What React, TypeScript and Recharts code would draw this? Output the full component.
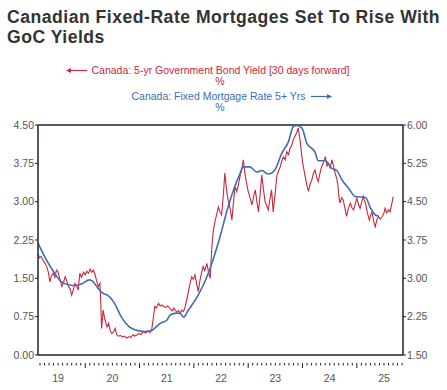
import { LineChart, Line, XAxis, YAxis, ReferenceLine } from 'recharts'

// Canada 5-yr GoC bond yield, 30 days forward (left axis, %)  [decimal year, value]
const BOND_YIELD: [number, number][] = [
  [2019.13, 1.98], [2019.16, 1.9], [2019.19, 1.93], [2019.23, 1.83], [2019.26, 1.8],
  [2019.29, 1.73], [2019.32, 1.62], [2019.35, 1.43], [2019.38, 1.55], [2019.41, 1.6],
  [2019.44, 1.52], [2019.47, 1.66], [2019.5, 1.63], [2019.53, 1.5], [2019.57, 1.34],
  [2019.6, 1.42], [2019.63, 1.53], [2019.66, 1.45], [2019.69, 1.34], [2019.72, 1.3],
  [2019.75, 1.17], [2019.78, 1.28], [2019.81, 1.4], [2019.84, 1.35], [2019.87, 1.27],
  [2019.9, 1.6], [2019.93, 1.52], [2019.97, 1.62], [2020.0, 1.57], [2020.03, 1.64],
  [2020.06, 1.6], [2020.09, 1.68], [2020.12, 1.62], [2020.15, 1.66], [2020.18, 1.57],
  [2020.21, 1.45], [2020.24, 1.34], [2020.27, 1.4], [2020.29, 0.9], [2020.3, 0.52],
  [2020.32, 0.75], [2020.33, 0.88], [2020.36, 0.7], [2020.4, 0.55], [2020.43, 0.62],
  [2020.46, 0.47], [2020.49, 0.42], [2020.52, 0.45], [2020.55, 0.52], [2020.58, 0.4],
  [2020.61, 0.37], [2020.65, 0.38], [2020.69, 0.35], [2020.72, 0.37], [2020.76, 0.33],
  [2020.8, 0.36], [2020.84, 0.34], [2020.88, 0.4], [2020.91, 0.37], [2020.95, 0.39],
  [2020.99, 0.42], [2021.03, 0.4], [2021.07, 0.46], [2021.11, 0.43], [2021.15, 0.47],
  [2021.19, 0.44], [2021.22, 0.48], [2021.25, 0.7], [2021.28, 0.95], [2021.31, 0.92],
  [2021.35, 1.01], [2021.38, 0.96], [2021.41, 0.98], [2021.44, 0.95], [2021.48, 0.93],
  [2021.52, 0.96], [2021.56, 0.91], [2021.6, 0.86], [2021.63, 0.92], [2021.65, 0.88],
  [2021.69, 0.84], [2021.72, 0.87], [2021.75, 0.82], [2021.78, 0.88], [2021.81, 0.85],
  [2021.84, 0.95], [2021.87, 1.08], [2021.9, 1.25], [2021.93, 1.4], [2021.96, 1.53],
  [2021.99, 1.48], [2022.02, 1.57], [2022.05, 1.4], [2022.08, 1.24], [2022.11, 1.45],
  [2022.14, 1.6], [2022.17, 1.73], [2022.2, 1.65], [2022.24, 1.79], [2022.27, 1.62],
  [2022.3, 1.5], [2022.33, 2.1], [2022.36, 2.45], [2022.39, 2.62], [2022.42, 2.75],
  [2022.45, 2.9], [2022.48, 2.8], [2022.51, 2.74], [2022.54, 3.1], [2022.57, 3.56],
  [2022.6, 3.25], [2022.63, 3.03], [2022.67, 2.85], [2022.7, 2.64], [2022.73, 3.0],
  [2022.76, 3.29], [2022.79, 3.2], [2022.82, 3.33], [2022.85, 3.5], [2022.88, 3.62],
  [2022.91, 3.82], [2022.94, 3.55], [2022.97, 3.36], [2023.0, 3.2], [2023.04, 3.05],
  [2023.07, 2.94], [2023.1, 3.1], [2023.13, 3.23], [2023.16, 3.0], [2023.19, 2.8],
  [2023.22, 3.15], [2023.25, 3.52], [2023.28, 3.25], [2023.31, 3.0], [2023.34, 2.92],
  [2023.37, 2.84], [2023.4, 3.05], [2023.43, 3.23], [2023.46, 2.8], [2023.5, 3.2],
  [2023.53, 3.52], [2023.56, 3.6], [2023.59, 3.68], [2023.62, 3.8], [2023.65, 3.88],
  [2023.68, 3.82], [2023.71, 3.98], [2023.74, 3.92], [2023.77, 4.04], [2023.8, 4.1],
  [2023.83, 4.21], [2023.86, 4.28], [2023.89, 4.34], [2023.92, 4.44], [2023.95, 4.25],
  [2023.98, 3.95], [2024.0, 3.78], [2024.03, 3.6], [2024.05, 3.49], [2024.08, 3.32],
  [2024.11, 3.2], [2024.14, 3.35], [2024.17, 3.42], [2024.2, 3.55], [2024.23, 3.62],
  [2024.26, 3.48], [2024.29, 3.39], [2024.32, 3.55], [2024.35, 3.68], [2024.38, 3.75],
  [2024.42, 3.88], [2024.45, 3.7], [2024.48, 3.75], [2024.51, 3.65], [2024.54, 3.82],
  [2024.57, 3.7], [2024.6, 3.56], [2024.63, 3.45], [2024.65, 3.33], [2024.67, 3.1],
  [2024.69, 2.97], [2024.72, 3.08], [2024.75, 3.03], [2024.78, 2.88], [2024.81, 2.71],
  [2024.84, 2.85], [2024.88, 2.97], [2024.91, 2.88], [2024.94, 2.84], [2024.97, 2.95],
  [2025.0, 3.07], [2025.03, 2.95], [2025.06, 2.87], [2025.09, 3.0], [2025.12, 3.1],
  [2025.14, 3.02], [2025.16, 2.97], [2025.19, 2.8], [2025.23, 2.64], [2025.25, 2.72],
  [2025.28, 2.8], [2025.31, 2.62], [2025.34, 2.51], [2025.37, 2.65], [2025.4, 2.71],
  [2025.43, 2.66], [2025.47, 2.71], [2025.5, 2.78], [2025.52, 2.87], [2025.55, 2.78],
  [2025.58, 2.84], [2025.61, 2.8], [2025.64, 2.94], [2025.67, 3.1],
]

// Canada fixed mortgage rate 5+ yrs (right axis, %)
const MORTGAGE_RATE: [number, number][] = [
  [2019.13, 3.69], [2019.28, 3.37], [2019.43, 3.11], [2019.55, 2.94], [2019.71, 2.87],
  [2019.83, 2.86], [2019.95, 2.9], [2020.07, 2.97], [2020.14, 2.94], [2020.23, 2.81],
  [2020.32, 2.71], [2020.41, 2.67], [2020.54, 2.51], [2020.66, 2.25], [2020.81, 2.05],
  [2020.93, 1.99], [2021.09, 1.96], [2021.22, 1.98], [2021.38, 2.12], [2021.5, 2.18],
  [2021.56, 2.28], [2021.68, 2.32], [2021.75, 2.31], [2021.81, 2.24], [2021.9, 2.38],
  [2022.08, 2.67], [2022.24, 3.03], [2022.36, 3.39], [2022.48, 3.81], [2022.63, 4.4],
  [2022.73, 4.73], [2022.85, 5.05], [2022.91, 5.18], [2023.03, 5.18], [2023.16, 5.08],
  [2023.25, 5.11], [2023.37, 5.04], [2023.49, 5.12], [2023.62, 5.45], [2023.74, 5.67],
  [2023.83, 5.97], [2023.89, 5.99], [2023.99, 5.94], [2024.08, 5.64], [2024.23, 5.47],
  [2024.29, 5.3], [2024.42, 5.3], [2024.54, 5.15], [2024.63, 5.11], [2024.73, 4.92],
  [2024.85, 4.76], [2024.97, 4.6], [2025.16, 4.58], [2025.25, 4.38], [2025.34, 4.24],
  [2025.4, 4.22],
]

const LEFT_TICKS = [0, 0.75, 1.5, 2.25, 3, 3.75, 4.5]
const RIGHT_TICKS = [1.5, 2.25, 3, 3.75, 4.5, 5.25, 6]
const YEARS = [2019, 2020, 2021, 2022, 2023, 2024, 2025]

const X_MIN = 2019.13
const X_MAX = 2025.85

// monthly tick marks across the visible range
const MONTH_TICKS: number[] = []
YEARS.forEach((y) => {
  for (let m = 0; m < 12; m++) {
    const t = y + m / 12
    if (t > X_MIN && t < X_MAX) MONTH_TICKS.push(t)
  }
})

const RED = '#c8283a'
const BLUE = '#3f6db3'
const FRAME = '#222'
const LABEL = '#555'
const FONT = '"Liberation Sans", Arial, sans-serif'

const bondData = BOND_YIELD.map(([t, v]) => ({ t, v }))
const mortgageData = MORTGAGE_RATE.map(([t, v]) => ({ t, v }))

const titleStyle = {
  position: 'absolute' as const,
  left: 7,
  whiteSpace: 'nowrap' as const,
  fontFamily: FONT,
  fontWeight: 700,
  fontSize: 17.6,
  letterSpacing: 0.5,
  lineHeight: '20px',
  height: 20,
  color: '#333',
}

function MonthTick(props: any) {
  const { x, y, payload } = props
  const t = payload.value
  const frac = Math.round((t - Math.floor(t + 1e-6)) * 12)
  const major = frac === 0
  return (
    <g>
      <line x1={x} x2={x} y1={y} y2={y + (major ? 5 : 2.5)} stroke={FRAME} strokeWidth={1} />
      {frac === 6 && (
        <text x={x} y={y + 19} textAnchor="middle" fontSize={10.5} fill={LABEL} fontFamily={FONT}>
          {String(Math.floor(t + 1e-6)).slice(2)}
        </text>
      )}
    </g>
  )
}

export default function App() {
  return (
    <div
      style={{
        position: 'absolute',
        left: 0,
        top: 0,
        width: 447,
        height: 390,
        background: '#fff',
        overflow: 'hidden',
      }}
    >
      <div style={{ ...titleStyle, top: 7 }}>Canadian Fixed-Rate Mortgages Set To Rise With</div>
      <div style={{ ...titleStyle, top: 27 }}>GoC Yields</div>

      <LineChart
        width={447}
        height={390}
        margin={{ top: 125, right: 0, bottom: 15, left: 0 }}
        style={{ position: 'absolute', left: 0, top: 0 }}
      >
        {/* legend */}
        <g fontFamily={FONT} fontSize={10.5}>
          <text x={220.5} y={74} textAnchor="middle" fill={RED}>
            Canada: 5-yr Government Bond Yield [30 days forward]
          </text>
          <text x={220} y={85} textAnchor="middle" fill={RED}>%</text>
          <line x1={87} x2={69} y1={70.5} y2={70.5} stroke={RED} strokeWidth={1.2} />
          <path d="M66,70.5 L71,68 L71,73 Z" fill={RED} />
          <text x={218.5} y={100} textAnchor="middle" fill={BLUE}>
            Canada: Fixed Mortgage Rate 5+ Yrs
          </text>
          <text x={220} y={111} textAnchor="middle" fill={BLUE}>%</text>
          <line x1={311} x2={329} y1={96.5} y2={96.5} stroke={BLUE} strokeWidth={1.2} />
          <path d="M332,96.5 L327,94 L327,99 Z" fill={BLUE} />
        </g>

        <XAxis
          xAxisId="x"
          dataKey="t"
          type="number"
          domain={[X_MIN, X_MAX]}
          ticks={MONTH_TICKS}
          interval={0}
          allowDataOverflow
          height={20}
          axisLine={{ stroke: FRAME, strokeWidth: 1.5 }}
          tickLine={false}
          tick={<MonthTick />}
        />
        <YAxis
          yAxisId="left"
          orientation="left"
          width={38}
          domain={[0, 4.5]}
          ticks={LEFT_TICKS}
          interval={0}
          tickFormatter={(v: number) => v.toFixed(2)}
          tick={{ fontSize: 10.5, fill: LABEL, fontFamily: FONT }}
          tickSize={3}
          tickMargin={1}
          axisLine={{ stroke: FRAME, strokeWidth: 1.5 }}
          tickLine={{ stroke: FRAME }}
        />
        <YAxis
          yAxisId="right"
          orientation="right"
          width={44}
          domain={[1.5, 6]}
          ticks={RIGHT_TICKS}
          interval={0}
          tickFormatter={(v: number) => v.toFixed(2)}
          tick={{ fontSize: 10.5, fill: LABEL, fontFamily: FONT, textAnchor: 'start' }}
          tickSize={3}
          tickMargin={1}
          axisLine={{ stroke: FRAME, strokeWidth: 1.5 }}
          tickLine={{ stroke: FRAME }}
        />
        <ReferenceLine xAxisId="x" yAxisId="left" y={4.5} stroke={FRAME} strokeWidth={1.5} />

        <Line
          xAxisId="x"
          yAxisId="left"
          data={bondData}
          dataKey="v"
          type="linear"
          stroke={RED}
          strokeWidth={1.1}
          dot={false}
          isAnimationActive={false}
        />
        <Line
          xAxisId="x"
          yAxisId="right"
          data={mortgageData}
          dataKey="v"
          type="monotone"
          stroke={BLUE}
          strokeWidth={1.6}
          dot={false}
          isAnimationActive={false}
        />
      </LineChart>
    </div>
  )
}
